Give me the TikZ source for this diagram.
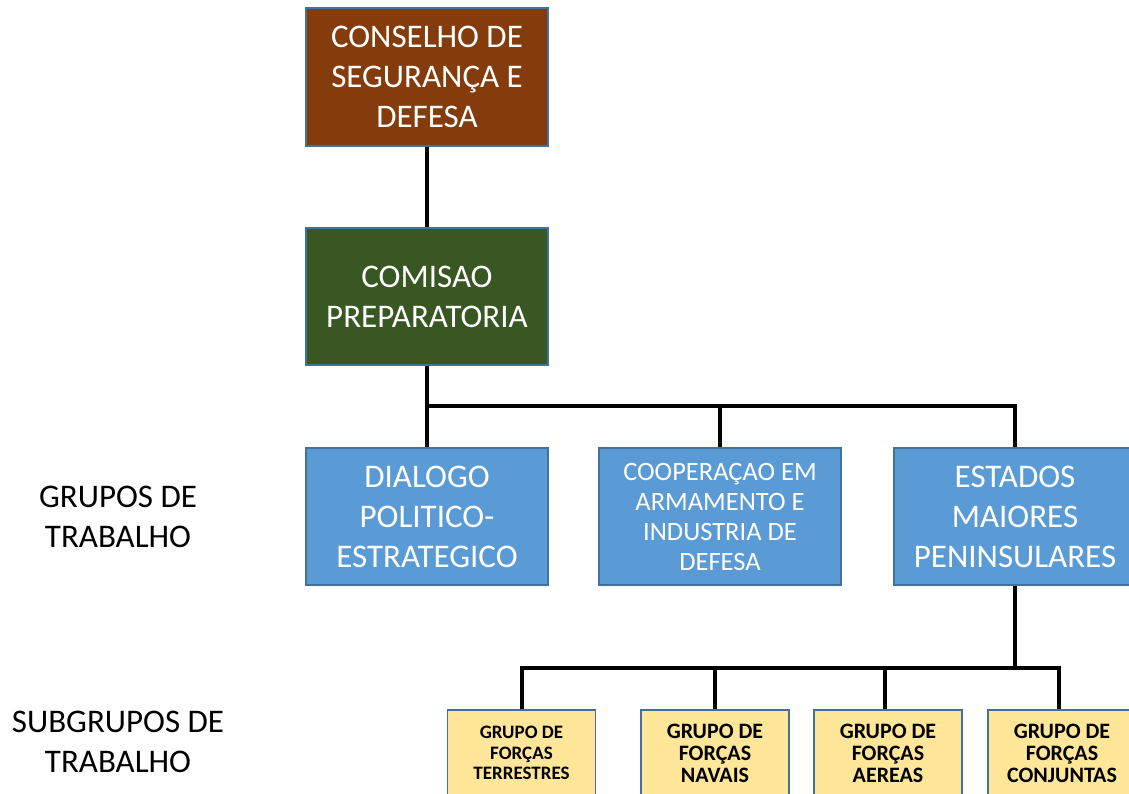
\documentclass[tikz,border=0pt]{standalone}
\usepackage{fontspec}
\setmainfont{Carlito}
\definecolor{brownbox}{HTML}{843C0C}
\definecolor{greenbox}{HTML}{385723}
\definecolor{bluebox}{HTML}{5B9BD5}
\definecolor{yellowbox}{HTML}{FFE699}
\definecolor{edgeblue}{HTML}{41719C}
\begin{document}
\begin{tikzpicture}[x=1pt,y=-1pt,
  bigbox/.style={draw=edgeblue, line width=1.2pt, minimum width=242pt, minimum height=137pt, inner sep=0pt, text=white, align=center, font=\fontsize{33}{40}\selectfont},
  smallbox/.style={draw=edgeblue, line width=1.2pt, fill=yellowbox, minimum width=148pt, minimum height=86pt, inner sep=0pt, text=black, align=center, font=\bfseries\fontsize{22}{22}\selectfont},
  lbl/.style={align=center, text=black, font=\fontsize{33}{40}\selectfont},
  conn/.style={line width=4pt, black, line join=miter}]
\clip (0,0) rectangle (1129,794);
\fill[white] (0,0) rectangle (1129,794);
% nodes
\node[bigbox, fill=brownbox, minimum height=138pt] (cons) at (427,77) {CONSELHO DE\\SEGURANÇA E\\DEFESA};
\node[bigbox, fill=greenbox] (com) at (427,296.5) {COMISAO\\PREPARATORIA};
\node[bigbox, fill=bluebox] (g1) at (427,516.5) {DIALOGO\\POLITICO-\\ESTRATEGICO};
\node[bigbox, fill=bluebox, font=\fontsize{26.5}{30}\selectfont] (g2) at (720,516.5) {COOPERAÇAO EM\\ARMAMENTO E\\INDUSTRIA DE\\DEFESA};
\node[bigbox, fill=bluebox] (g3) at (1015,516.5) {ESTADOS\\MAIORES\\PENINSULARES};
\node[smallbox, font=\bfseries\fontsize{19}{20.5}\selectfont] (s1) at (521.5,753) {GRUPO DE\\FORÇAS\\TERRESTRES};
\node[smallbox] (s2) at (715,753) {GRUPO DE\\FORÇAS\\NAVAIS};
\node[smallbox] (s3) at (888,753) {GRUPO DE\\FORÇAS\\AEREAS};
\node[smallbox] (s4) at (1062,753) {GRUPO DE\\FORÇAS\\CONJUNTAS};
\node[lbl] (l1) at (118,517) {GRUPOS DE\\TRABALHO};
\node[lbl] (l2) at (118,742) {SUBGRUPOS DE\\TRABALHO};
% connectors
\coordinate (bus) at (427,406);
\coordinate (bus2) at (1015,668);
\coordinate (t3) at ([xshift=-3pt]s3.north);
\coordinate (t4) at ([xshift=-3pt]s4.north);
\draw[conn] (cons.south) -- (com.north);
\draw[conn] (com.south) -- (g1.north);
\draw[conn] (bus) -| (g3.north);
\draw[conn] (g2.north) -- (g2.north |- bus);
\draw[conn] (g3.south) -- (bus2);
\draw[conn] (s1.north) |- (t4 |- bus2) -- (t4);
\draw[conn] (s2.north) -- (s2.north |- bus2);
\draw[conn] (t3) -- (t3 |- bus2);
\end{tikzpicture}
\end{document}
